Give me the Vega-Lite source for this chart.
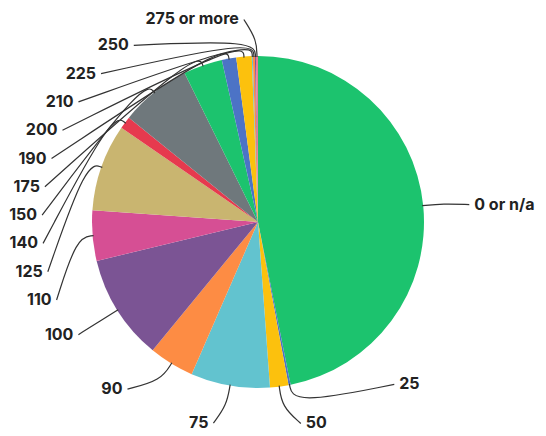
{
  "$schema": "https://vega.github.io/schema/vega-lite/v6.json",
  "width": 546,
  "height": 436,
  "autosize": "none",
  "padding": 0,
  "background": "white",
  "config": {"view": {"stroke": null}},
  "data": {
    "values": [
      {"order": 1, "category": "0 or n/a", "share": 46.9},
      {"order": 2, "category": "25", "share": 0.2},
      {"order": 3, "category": "50", "share": 1.8},
      {"order": 4, "category": "75", "share": 7.7},
      {"order": 5, "category": "90", "share": 4.4},
      {"order": 6, "category": "100", "share": 10.3},
      {"order": 7, "category": "110", "share": 4.9},
      {"order": 8, "category": "125", "share": 8.5},
      {"order": 9, "category": "140", "share": 1.2},
      {"order": 10, "category": "150", "share": 6.9},
      {"order": 11, "category": "175", "share": 3.8},
      {"order": 12, "category": "190", "share": 1.4},
      {"order": 13, "category": "200", "share": 1.5},
      {"order": 14, "category": "210", "share": 0.1},
      {"order": 15, "category": "225", "share": 0.2},
      {"order": 16, "category": "250", "share": 0.1},
      {"order": 17, "category": "275 or more", "share": 0.2}
    ]
  },
  "layer": [
    {
      "mark": {"type": "arc", "outerRadius": 166},
      "encoding": {
        "x": {"datum": 0, "type": "quantitative", "scale": {"domain": [-258, 288], "nice": false, "zero": false}, "axis": null},
        "y": {"datum": 0, "type": "quantitative", "scale": {"domain": [-222, 214], "reverse": true, "nice": false, "zero": false}, "axis": null},
        "theta": {"field": "share", "type": "quantitative", "stack": true},
        "order": {"field": "order", "type": "quantitative"},
        "color": {
          "field": "category", "type": "nominal", "legend": null,
          "scale": {
            "domain": ["0 or n/a", "25", "50", "75", "90", "100", "110", "125", "140", "150", "175", "190", "200", "210", "225", "250", "275 or more"],
            "range": ["#1cc36e", "#4c73c6", "#fcc10d", "#62c3cf", "#fd8c44", "#7b5494", "#d64f94", "#c9b570", "#e63a4e", "#6f787c", "#1cc36e", "#4c73c6", "#fcc10d", "#62c3cf", "#fd8c44", "#7b5494", "#e8789a"]
          }
        }
      }
    },
    {
      "transform": [
        {"joinaggregate": [{"op": "sum", "field": "share", "as": "total"}]},
        {"window": [{"op": "sum", "field": "share", "as": "cum"}], "sort": [{"field": "order"}], "frame": [null, 0]},
        {"calculate": "(datum.cum - datum.share/2)/datum.total*2*PI", "as": "mid"},
        {"calculate": "datum.order==1 ? 85.3 : datum.order==2 ? 140 : datum.order==3 ? 168 : datum.order==4 ? 192.5 : datum.order==5 ? 218 : datum.order==17 ? 356 : datum.mid*180/PI", "as": "la"},
        {"calculate": "datum.order==3 ? 206 : datum.order==4 ? 206 : datum.order==17 ? 203 : 212", "as": "lr"},
        {"calculate": "datum.order>=7 && datum.order<=16 ? 78 - (datum.order-7)*28.3 : -datum.lr*cos(datum.la*PI/180)", "as": "ly"},
        {"calculate": "datum.order>=7 && datum.order<=16 ? -sqrt(216*216 - datum.ly*datum.ly) : datum.lr*sin(datum.la*PI/180)", "as": "lx"},
        {"calculate": "datum.order<=6 ? 186 : 182", "as": "er"},
        {"calculate": "datum.lx", "as": "x0"},
        {"calculate": "datum.er*sin(datum.mid)", "as": "x1"},
        {"calculate": "165*sin(datum.mid)", "as": "x2"},
        {"calculate": "datum.ly", "as": "y0"},
        {"calculate": "-datum.er*cos(datum.mid)", "as": "y1"},
        {"calculate": "-165*cos(datum.mid)", "as": "y2"},
        {"fold": ["x0", "x1", "x2"], "as": ["pt", "px"]},
        {"calculate": "datum.pt=='x0' ? datum.y0 : datum.pt=='x1' ? datum.y1 : datum.y2", "as": "py"}
      ],
      "mark": {"type": "line", "interpolate": "basis", "color": "#333333", "strokeWidth": 1.2},
      "encoding": {
        "x": {"field": "px", "type": "quantitative", "scale": {"domain": [-258, 288], "nice": false, "zero": false}, "axis": null},
        "y": {"field": "py", "type": "quantitative", "scale": {"domain": [-222, 214], "reverse": true, "nice": false, "zero": false}, "axis": null},
        "detail": {"field": "category", "type": "nominal"},
        "order": {"field": "pt", "type": "ordinal"}
      }
    },
    {
      "transform": [
        {"joinaggregate": [{"op": "sum", "field": "share", "as": "total"}]},
        {"window": [{"op": "sum", "field": "share", "as": "cum"}], "sort": [{"field": "order"}], "frame": [null, 0]},
        {"calculate": "(datum.cum - datum.share/2)/datum.total*2*PI", "as": "mid"},
        {"calculate": "datum.order==1 ? 85.3 : datum.order==2 ? 140 : datum.order==3 ? 168 : datum.order==4 ? 192.5 : datum.order==5 ? 218 : datum.order==17 ? 356 : datum.mid*180/PI", "as": "la"},
        {"calculate": "datum.order==3 ? 206 : datum.order==4 ? 206 : datum.order==17 ? 203 : 212", "as": "lr"},
        {"calculate": "datum.order>=7 && datum.order<=16 ? 78 - (datum.order-7)*28.3 : -datum.lr*cos(datum.la*PI/180)", "as": "ly"},
        {"calculate": "datum.order>=7 && datum.order<=16 ? -sqrt(216*216 - datum.ly*datum.ly) : datum.lr*sin(datum.la*PI/180)", "as": "lx"},
        {"filter": "datum.order <= 3"}
      ],
      "mark": {"type": "text", "align": "left", "baseline": "middle", "dx": 5, "font": "Inter", "fontWeight": "bold", "fontSize": 16, "color": "#222222"},
      "encoding": {
        "x": {"field": "lx", "type": "quantitative", "scale": {"domain": [-258, 288], "nice": false, "zero": false}, "axis": null},
        "y": {"field": "ly", "type": "quantitative", "scale": {"domain": [-222, 214], "reverse": true, "nice": false, "zero": false}, "axis": null},
        "text": {"field": "category", "type": "nominal"}
      }
    },
    {
      "transform": [
        {"joinaggregate": [{"op": "sum", "field": "share", "as": "total"}]},
        {"window": [{"op": "sum", "field": "share", "as": "cum"}], "sort": [{"field": "order"}], "frame": [null, 0]},
        {"calculate": "(datum.cum - datum.share/2)/datum.total*2*PI", "as": "mid"},
        {"calculate": "datum.order==1 ? 85.3 : datum.order==2 ? 140 : datum.order==3 ? 168 : datum.order==4 ? 192.5 : datum.order==5 ? 218 : datum.order==17 ? 356 : datum.mid*180/PI", "as": "la"},
        {"calculate": "datum.order==3 ? 206 : datum.order==4 ? 206 : datum.order==17 ? 203 : 212", "as": "lr"},
        {"calculate": "datum.order>=7 && datum.order<=16 ? 78 - (datum.order-7)*28.3 : -datum.lr*cos(datum.la*PI/180)", "as": "ly"},
        {"calculate": "datum.order>=7 && datum.order<=16 ? -sqrt(216*216 - datum.ly*datum.ly) : datum.lr*sin(datum.la*PI/180)", "as": "lx"},
        {"filter": "datum.order > 3"}
      ],
      "mark": {"type": "text", "align": "right", "baseline": "middle", "dx": -5, "font": "Inter", "fontWeight": "bold", "fontSize": 16, "color": "#222222"},
      "encoding": {
        "x": {"field": "lx", "type": "quantitative", "scale": {"domain": [-258, 288], "nice": false, "zero": false}, "axis": null},
        "y": {"field": "ly", "type": "quantitative", "scale": {"domain": [-222, 214], "reverse": true, "nice": false, "zero": false}, "axis": null},
        "text": {"field": "category", "type": "nominal"}
      }
    }
  ]
}
